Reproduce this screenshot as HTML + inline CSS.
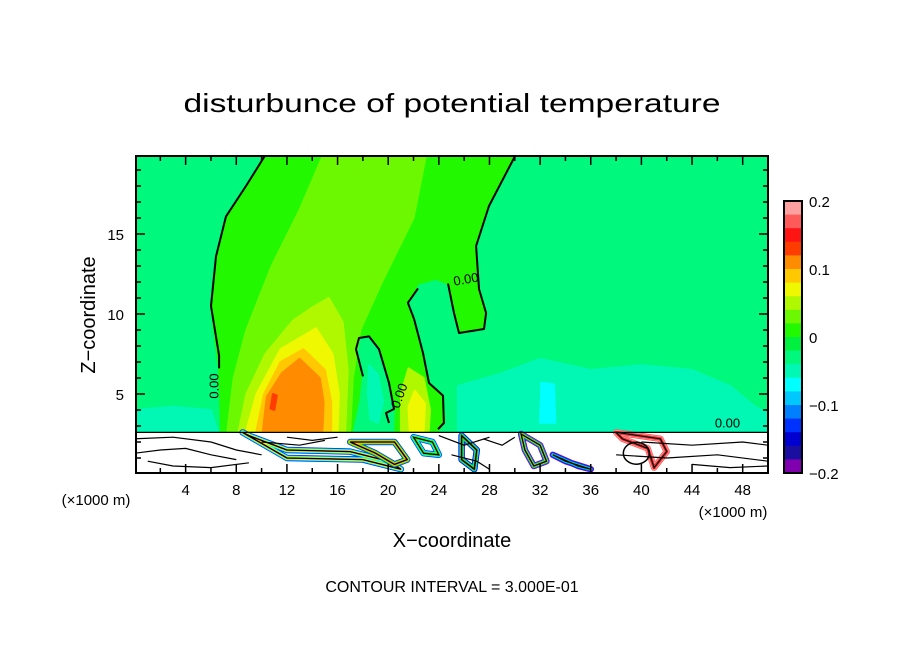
<!DOCTYPE html>
<html><head><meta charset="utf-8"><style>
html,body{margin:0;padding:0;background:#fff;}
svg{display:block;font-family:"Liberation Sans",sans-serif;}
</style></head><body>
<svg id="chart" width="904" height="654" viewBox="0 0 904 654">
<text x="452" y="112" text-anchor="middle" font-size="26" textLength="537" lengthAdjust="spacingAndGlyphs">disturbunce of potential temperature</text>
<defs><clipPath id="pc"><rect x="136" y="156" width="632" height="317"/></clipPath></defs>
<g id="field" clip-path="url(#pc)"></g>
<g id="axes"></g>
<g id="cbar"></g>
<text x="452" y="547" text-anchor="middle" font-size="20">X−coordinate</text>
<text transform="translate(95,315) rotate(-90)" text-anchor="middle" font-size="20">Z−coordinate</text>
<text x="96" y="505" text-anchor="middle" font-size="15">(×1000 m)</text>
<text x="733" y="517" text-anchor="middle" font-size="15">(×1000 m)</text>
<text x="452" y="592" text-anchor="middle" font-size="16">CONTOUR INTERVAL = 3.000E-01</text>
</svg>
<script>
const levelColors=["#ffa0a0","#ff5a5a","#ff1414","#ff3c00","#ff8c00","#ffc800","#f0f800","#b0f800","#6cf800","#22f800","#00f040","#00f87c","#00f8b4","#00ffff","#00c8ff","#0080ff","#0032ff","#0000d0","#1a0ea0","#8000b0"];
const cbarTicks=[0.2,0.1,0,-0.1,-0.2];
const cbarLabels=["0.2","0.1","0","−0.1","−0.2"];
const xTicks=[4,8,12,16,20,24,28,32,36,40,44,48];
const zTicks=[5,10,15];
const regionGreen=[[10.35,20],[30.1,20],[27.96,16.75],[26.94,14.25],[27.17,11.56],[27.73,10.06],[27.57,9.06],[25.59,8.81],[25.2,10.06],[24.72,11.9],[23.78,12.2],[22.35,11.9],[21.56,10.7],[22.04,9.7],[22.75,7.56],[23.22,5.69],[24.33,4.9],[24.4,3.19],[23.93,2.7],[6.8,2.7],[6.64,6.6],[6.0,10.5],[6.4,13.6],[7.19,16.1],[8.77,18]];
const regionFinger=[[20.4,2.7],[20.46,4.06],[20.06,5.69],[19.27,7.8],[18.48,8.6],[17.69,8.5],[17.46,7.8],[18.01,6.1],[17.8,4.5],[17.3,2.7]];
const regionLime=[[14.9,20],[23,20],[22,16],[19.5,12],[17.8,9],[17.2,6],[17,2.7],[7.3,2.7],[7.8,6],[8.8,9],[10.8,13],[13,16.5]];
const regionYG=[[15.3,11],[16.4,9.5],[16.8,6.5],[16.6,2.7],[8.2,2.7],[8.8,5],[10.3,7.5],[12.5,9.6],[14,10.4]];
const regionYG2=[[21.6,6.6],[22.8,6],[23.3,4],[23.2,2.7],[21.0,2.7],[21.0,5]];
const regionYellow=[[14.3,9.1],[15.6,7.5],[16.1,5],[16,2.7],[8.8,2.7],[9.6,5],[11.5,7.8]];
const regionYellow2=[[22.1,5.2],[22.9,4.4],[22.8,2.7],[21.7,2.7],[21.6,4.2]];
const regionGold=[[13.3,7.8],[15,6.5],[15.5,4.5],[15.5,2.7],[9.6,2.7],[10.2,5],[11.5,7]];
const regionOrange=[[13,7.2],[14.6,6],[14.9,4.5],[14.8,2.7],[10.1,2.7],[10.4,4.8],[11.6,6.3]];
const regionRed=[[10.9,5.0],[11.2,4.9],[11.0,4.0],[10.7,4.1]];
const regionTeal=[[25.5,5.5],[29,6.3],[32,7.2],[36,6.5],[40,6.8],[44,6.5],[47,5.5],[49,4.2],[50,3.8],[50,2.7],[25.5,2.7]];
const regionTeal2=[[18.5,6.8],[19.2,6.2],[19.6,4.5],[19.2,3.2],[18.6,3.4],[18.4,5]];
const regionCyan=[[32.1,5.7],[33.1,5.6],[33.2,3.2],[32.0,3.2]];
const regionTealL=[[0,4.0],[3,4.2],[6,4.0],[6.5,2.7],[0,2.7]];
const contourLeft=[[10.35,20],[8.77,18],[7.19,16.1],[6.4,13.6],[6.0,10.5],[6.64,7.4],[6.64,6.6]];
const contourRight=[[30.1,20],[27.96,16.75],[26.94,14.25],[27.17,11.56],[27.73,10.06],[27.57,9.06],[25.59,8.81],[25.2,10.06],[24.72,11.9]];
const contourRight2=[[22.35,11.6],[21.56,10.7],[22.04,9.7],[22.75,7.56],[23.22,5.69],[24.33,4.9],[24.4,3.19],[23.93,2.8]];
const contourFinger=[[20.06,3.19],[19.83,3.81],[20.46,4.06],[20.06,5.69],[19.27,7.8],[18.48,8.6],[17.69,8.5],[17.46,7.8],[18.01,6.1]];
const X0=135,XS=12.66,Z0=474,ZS=16;
const sx=x=>X0+x*XS, sz=z=>Z0-z*ZS;
const NS="http://www.w3.org/2000/svg";
function mk(tag,parent,attrs){const e=document.createElementNS(NS,tag);for(const k in attrs)e.setAttribute(k,attrs[k]);parent.appendChild(e);return e;}
const field=document.getElementById('field');
const pts=p=>p.map(q=>sx(q[0]).toFixed(1)+','+sz(q[1]).toFixed(1)).join(' ');
let bg=mk('rect',field,{x:136,y:156,width:632,height:317,fill:levelColors[11]});


const regs=[[regionTealL,12],[regionTeal,12],[regionCyan,13],[regionGreen,9],[regionFinger,11],[regionTeal2,12],[regionLime,8],[regionYG,7],[regionYG2,7],[regionYellow,6],[regionYellow2,6],[regionGold,5],[regionOrange,4],[regionRed,3]];
regs.forEach(r=>{const e=mk('polygon',field,{points:pts(r[0]),fill:levelColors[r[1]],stroke:levelColors[r[1]],'stroke-width':2,'stroke-linejoin':'round'});

});
[contourLeft,contourRight,contourRight2,contourFinger].forEach(c=>{const e=mk('polyline',field,{points:pts(c),fill:'none',stroke:'#000','stroke-width':2,'stroke-linejoin':'round'});

});
const labs=[[6.6,5.5,-90,"0.00"],[21.2,4.8,-70,"0.00"],[26.2,11.9,-10,"0.00"],[46.8,2.9,0,"0.00"]];
labs.forEach(l=>{const t=mk('text',field,{x:sx(l[0]),y:sz(l[1]),'font-size':13,'text-anchor':'middle',transform:`rotate(${l[2]} ${sx(l[0])} ${sz(l[1])})`});t.textContent=l[3];

});
let low=mk('rect',field,{x:136,y:sz(2.6),width:632,height:Z0-sz(2.6),fill:'#fff'});


const blobs=[[[8.5,2.6],[12,1],[18,0.9],[21,0.3],[20,0.8],[17,1.4],[12,1.5],[9,2.4]],[[17,2.0],[19,1.3],[20.5,0.6],[21.5,0.9],[20.5,2.0]],[[30.5,2.5],[32,1.8],[32.5,0.8],[31.5,0.5],[30.8,1.5]],[[38,2.6],[41.5,2.2],[42,1.4],[41,0.4],[40.5,1.6],[38.5,2.2]],[[25.8,2.4],[27,1.5],[26.8,0.3],[25.8,0.9]],[[22,2.3],[23.5,2.0],[24,1.2],[22.8,1.3]],[[33,1.2],[35,0.5],[36,0.3],[34,0.8]]];
const blobCols=[["#0032ff","#00ffff","#f0f800","#ff5a5a"],["#0032ff","#22f800","#ffc800","#ff5a5a"],["#8000b0","#0080ff","#6cf800","#ff8c00"],["#ff5a5a","#ffa0a0","#ff1414","#ffa0a0"],["#0000d0","#00c8ff","#22f800","#ff1414"],["#0032ff","#00ffff","#22f800","#f0f800"],["#8000b0","#0032ff","#00c8ff","#22f800"]];
blobs.forEach((b,i)=>{blobCols[i].forEach((c,j)=>{const e=mk('polygon',field,{points:pts(b),fill:'none',stroke:c,'stroke-width':(4-j)*1.6,'stroke-linejoin':'round'});

});
const o=mk('polygon',field,{points:pts(b),fill:'none',stroke:'#000','stroke-width':1.3});

});
const wiggles=[[[0,2.2],[3,2.3],[6,2.0],[8,1.5],[10,1.2]],[[0,1.3],[2,1.5],[4,1.6],[6,1.2],[8,0.9]],[[1,0.8],[3,0.5],[6,0.4],[9,0.7]],[[40,2.0],[44,1.8],[48,2.0],[50,1.8]],[[38,1.2],[42,1.0],[46,1.2],[50,0.8]],[[44,0.6],[47,0.4],[50,0.5]],[[24,2.4],[26,1.8],[28,2.3]],[[25,1.2],[27,0.8],[28,0.3]],[[0,2.6],[50,2.6]],[[10,2.0],[13,1.8],[15,2.1]],[[12,2.3],[14,2.1],[16,2.3]],[[27.5,2.2],[29,1.8],[30,2.3]]];
wiggles.forEach(w=>{const e=mk('polyline',field,{points:pts(w),fill:'none',stroke:'#000','stroke-width':1.2});

});
const ring=mk('ellipse',field,{cx:sx(39.6),cy:sz(1.3),rx:13,ry:11,fill:'none',stroke:'#000','stroke-width':1.5});


const axes=document.getElementById('axes');
let frame=mk('rect',axes,{x:136,y:156,width:632,height:317,fill:'none',stroke:'#000','stroke-width':2});


for(let x=2;x<50;x+=2){const L=x%4==0?9:5;
const t=mk('line',axes,{x1:sx(x),x2:sx(x),y1:473,y2:473-L,stroke:'#000','stroke-width':1.5});


const t2=mk('line',axes,{x1:sx(x),x2:sx(x),y1:156,y2:156+L,stroke:'#000','stroke-width':1.5});

}
for(let z=1;z<20;z++){const L=z%5==0?9:5;
const t=mk('line',axes,{x1:136,x2:136+L,y1:sz(z),y2:sz(z),stroke:'#000','stroke-width':1.5});


const t2=mk('line',axes,{x1:768,x2:768-L,y1:sz(z),y2:sz(z),stroke:'#000','stroke-width':1.5});

}
xTicks.forEach(v=>{const t=mk('text',axes,{x:sx(v),y:495,'text-anchor':'middle','font-size':15});t.textContent=v;

});
zTicks.forEach(v=>{const t=mk('text',axes,{x:124,y:sz(v)+6,'text-anchor':'end','font-size':15});t.textContent=v;

});
const cb=document.getElementById('cbar');
const cTop=201,cBot=473,cX=784,cW=18;
const cy=v=>cTop+(0.2-v)/0.4*(cBot-cTop);
levelColors.forEach((c,i)=>{const v1=0.2-i*0.02;const r=mk('rect',cb,{x:cX,y:cy(v1),width:cW,height:cy(v1-0.02)-cy(v1)+0.5,fill:c});

});
let cf=mk('rect',cb,{x:cX,y:cTop,width:cW,height:cBot-cTop,fill:'none',stroke:'#000','stroke-width':2});


cbarTicks.forEach((v,i)=>{const t=mk('text',cb,{x:809,y:cy(v)+6,'font-size':15});t.textContent=cbarLabels[i];

});
</script>
</body></html>
